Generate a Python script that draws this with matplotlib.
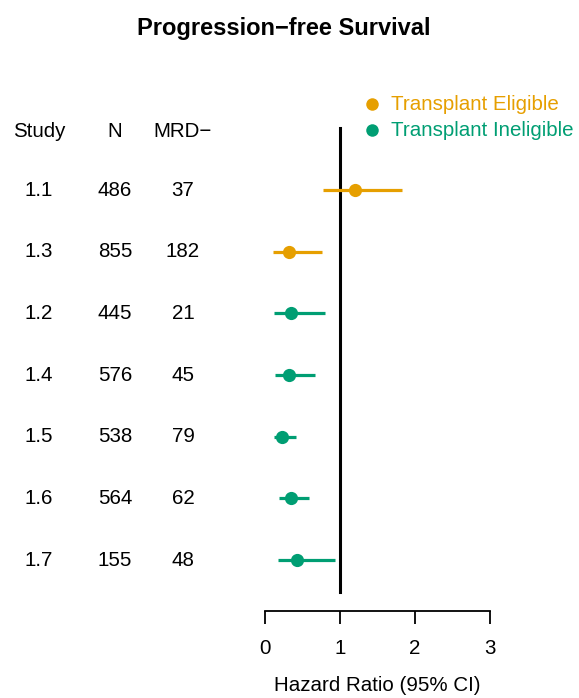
import matplotlib
matplotlib.use("Agg")
import matplotlib.pyplot as plt
from matplotlib.transforms import blended_transform_factory

plt.rcParams['font.family'] = ['Liberation Sans', 'DejaVu Sans']

studies = ["1.1", "1.3", "1.2", "1.4", "1.5", "1.6", "1.7"]
n_patients = [486, 855, 445, 576, 538, 564, 155]
mrd_neg = [37, 182, 21, 45, 79, 62, 48]
hazard_ratio = [1.20, 0.32, 0.34, 0.32, 0.23, 0.34, 0.42]
ci_low = [0.77, 0.11, 0.12, 0.13, 0.12, 0.18, 0.17]
ci_high = [1.83, 0.76, 0.80, 0.67, 0.41, 0.59, 0.93]
group = ["Transplant Eligible", "Transplant Eligible", "Transplant Ineligible",
         "Transplant Ineligible", "Transplant Ineligible", "Transplant Ineligible",
         "Transplant Ineligible"]
group_colors = {"Transplant Eligible": "#E69F00", "Transplant Ineligible": "#009E73"}
x_ticks = [0, 1, 2, 3]

FS = 14.8

W, H = 579, 698
fig = plt.figure(figsize=(W / 100, H / 100), dpi=100)

# forest panel: x=0 at px 265, x=3 at px 490; bottom axis at px 611
left, right = 265 / W, 490 / W
bottom, top = 1 - 611 / H, 1 - 95 / H
ax = fig.add_axes([left, bottom, right - left, top - bottom])
row_gap = 61.67
ax.set_xlim(0, 3)
ax.set_ylim((611 - 190) / row_gap, (95 - 190) / row_gap)

for i, (hr, lo, hi, g) in enumerate(zip(hazard_ratio, ci_low, ci_high, group)):
    c = group_colors[g]
    ax.plot([lo, hi], [i, i], color=c, lw=2.3, solid_capstyle='butt', zorder=3)
    ax.plot(hr, i, 'o', color=c, ms=9.5, mec='none', zorder=4)

ax.plot([1, 1], [(128 - 190) / row_gap, (592 - 190) / row_gap], color='black', lw=2.2, zorder=2)

for s in ['top', 'right', 'left']:
    ax.spines[s].set_visible(False)
ax.spines['bottom'].set_linewidth(1.3)
ax.set_yticks([])
ax.set_xticks(x_ticks)
ax.set_xticklabels([str(t) for t in x_ticks], fontsize=FS)
ax.tick_params(axis='x', length=9, width=1.3, pad=11)
ax.set_xlabel("Hazard Ratio (95% CI)", fontsize=FS, labelpad=13)

# table columns
tr = blended_transform_factory(fig.transFigure, ax.transData)
header_y = (131 - 190) / row_gap
col_x = [39 / W, 115 / W, 183 / W]
for x, h in zip(col_x, ["Study", "N", "MRD\u2212"]):
    ax.text(x, header_y, h, transform=tr, ha='center', va='center', fontsize=FS, clip_on=False)
for i in range(len(studies)):
    for x, v in zip(col_x, [studies[i], n_patients[i], mrd_neg[i]]):
        ax.text(x, i, str(v), transform=tr, ha='center', va='center', fontsize=FS, clip_on=False)

# legend
for name, py in [("Transplant Eligible", 104), ("Transplant Ineligible", 130)]:
    c = group_colors[name]
    yy = (py - 190) / row_gap
    ax.plot([1 + (372 - 340) / 75], [yy], 'o', color=c, ms=9, mec='none', clip_on=False)
    ax.text(1 + (391 - 340) / 75, yy, name, color=c, ha='left', va='center',
            fontsize=FS, clip_on=False)

fig.text(284 / W, 1 - 29 / H, "Progression\u2212free Survival", ha='center', va='center',
         fontsize=17, fontweight='bold')

fig.savefig("out.png", dpi=100)
